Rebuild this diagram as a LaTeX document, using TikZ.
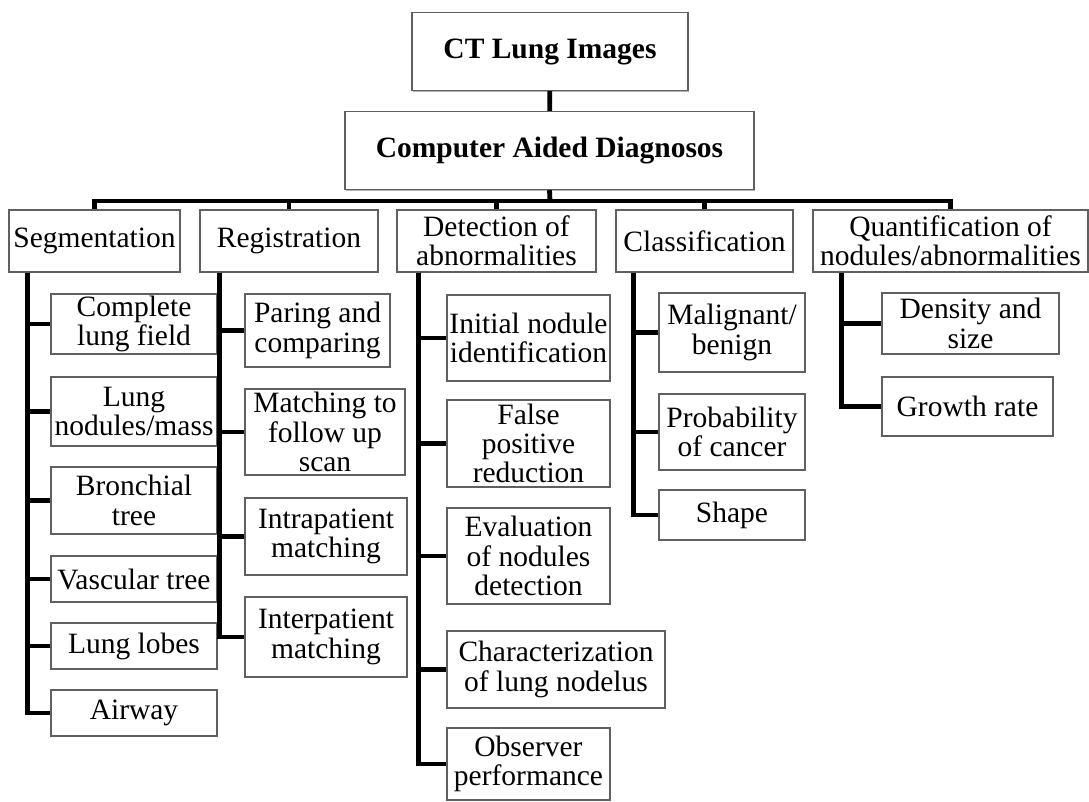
\documentclass[tikz,border=0pt]{standalone}
\usepackage{fontspec}
\setmainfont{Liberation Serif}
\usepackage{tikz}
\usetikzlibrary{shadows}

\begin{document}
\begin{tikzpicture}[
   x=0.5pt,y=-0.5pt,
   font=\fontsize{14.75}{14.6}\selectfont,
   box/.style={draw=gray!75!black,line width=0.7pt,fill=white,align=center,inner sep=0pt,
      drop shadow={shadow xshift=0.5pt,shadow yshift=-0.7pt,opacity=0.6,fill=gray}},
   head/.style={box,font=\fontsize{14.75}{14.6}\selectfont\bfseries,minimum height=39pt},
   cat/.style={box,minimum height=31pt},
   leaf/.style={box},
   link/.style={line width=2.4pt}]
\useasboundingbox (0,0) rectangle (1089,802);
% top of the tree
\node[head,minimum width=138pt] (ct) at (550,51.5) {CT Lung Images};
\node[head,minimum width=204.5pt] (cad) at (549.5,150.5) {Computer Aided Diagnosos};
% categories
\node[cat,minimum width=85.5pt] (seg) at (94.5,241) {Segmentation};
\node[cat,minimum width=89pt] (reg) at (289,241) {Registration};
\node[cat,minimum width=99.5pt] (det) at (496.5,241) {Detection of\\abnormalities};
\node[cat,minimum width=88.5pt] (cls) at (704.5,241) {Classification};
\node[cat,minimum width=137.5pt] (qnt) at (950.5,241) {Quantification of\\nodules/abnormalities};
% segmentation
\node[leaf,minimum width=83pt,minimum height=30pt] (seg1) at (134,324) {Complete\\lung field};
\node[leaf,minimum width=83pt,minimum height=34.5pt] (seg2) at (134,411.5) {Lung\\nodules/mass};
\node[leaf,minimum width=83pt,minimum height=33.5pt] (seg3) at (134,500.5) {Bronchial\\tree};
\node[leaf,minimum width=83pt,minimum height=23pt] (seg4) at (134,579) {Vascular tree};
\node[leaf,minimum width=83pt,minimum height=23pt] (seg5) at (134,646) {Lung lobes};
\node[leaf,minimum width=83pt,minimum height=23pt] (seg6) at (134,713) {Airway};
% registration
\node[leaf,minimum width=72.5pt,minimum height=36.5pt] (reg1) at (317.5,330.5) {Paring and\\comparing};
\node[leaf,minimum width=80pt,minimum height=43pt] (reg2) at (325,432) {Matching to\\follow up\\scan};
\node[leaf,minimum width=81pt,minimum height=38.5pt] (reg3) at (326,536.5) {Intrapatient\\matching};
\node[leaf,minimum width=81pt,minimum height=40pt] (reg4) at (326,637) {Interpatient\\matching};
% detection
\node[leaf,minimum width=81.5pt,minimum height=43pt] (det1) at (528.5,338) {Initial nodule\\identification};
\node[leaf,minimum width=81.5pt,minimum height=43.5pt] (det2) at (528.5,443.5) {False\\positive\\reduction};
\node[leaf,minimum width=81.5pt,minimum height=48pt] (det3) at (528.5,556) {Evaluation\\of nodules\\detection};
\node[leaf,minimum width=109pt,minimum height=38.5pt] (det4) at (556,669.5) {Characterization\\of lung nodelus};
\node[leaf,minimum width=81.5pt,minimum height=36pt] (det5) at (528.5,764) {Observer\\performance};
% classification
\node[leaf,minimum width=73pt,minimum height=39.5pt] (cls1) at (732,332.5) {Malignant/\\benign};
\node[leaf,minimum width=73pt,minimum height=38pt] (cls2) at (732,432) {Probability\\of cancer};
\node[leaf,minimum width=73pt,minimum height=25pt] (cls3) at (732,515) {Shape};
% quantification
\node[leaf,minimum width=88.5pt,minimum height=30.5pt] (qnt1) at (970.5,323.5) {Density and\\size};
\node[leaf,minimum width=85.5pt,minimum height=29.5pt] (qnt2) at (967.5,406.5) {Growth rate};
% connectors
\coordinate (bus) at (550,201);
\draw[link] (ct) -- (cad);
\draw[link] (cad.south) -- (bus);
\draw[link] (bus) -| (seg.north);
\draw[link] (bus) -| (reg.north);
\draw[link] (bus) -| (det.north);
\draw[link] (bus) -| (cls.north);
\draw[link] (bus) -| (qnt.north);
\draw[link] ([xshift=9.5pt]seg.south west) |- (seg1.west);
\draw[link] ([xshift=9.5pt]seg.south west) |- (seg2.west);
\draw[link] ([xshift=9.5pt]seg.south west) |- (seg3.west);
\draw[link] ([xshift=9.5pt]seg.south west) |- (seg4.west);
\draw[link] ([xshift=9.5pt]seg.south west) |- (seg5.west);
\draw[link] ([xshift=9.5pt]seg.south west) |- (seg6.west);
\draw[link] ([xshift=10pt]reg.south west) |- (reg1.west);
\draw[link] ([xshift=10pt]reg.south west) |- (reg2.west);
\draw[link] ([xshift=10pt]reg.south west) |- (reg3.west);
\draw[link] ([xshift=10pt]reg.south west) |- (reg4.west);
\draw[link] ([xshift=11pt]det.south west) |- (det1.west);
\draw[link] ([xshift=11pt]det.south west) |- (det2.west);
\draw[link] ([xshift=11pt]det.south west) |- (det3.west);
\draw[link] ([xshift=11pt]det.south west) |- (det4.west);
\draw[link] ([xshift=11pt]det.south west) |- (det5.west);
\draw[link] ([xshift=9pt]cls.south west) |- (cls1.west);
\draw[link] ([xshift=9pt]cls.south west) |- (cls2.west);
\draw[link] ([xshift=9pt]cls.south west) |- (cls3.west);
\draw[link] ([xshift=14.5pt]qnt.south west) |- (qnt1.west);
\draw[link] ([xshift=14.5pt]qnt.south west) |- (qnt2.west);
\end{tikzpicture}
\end{document}
